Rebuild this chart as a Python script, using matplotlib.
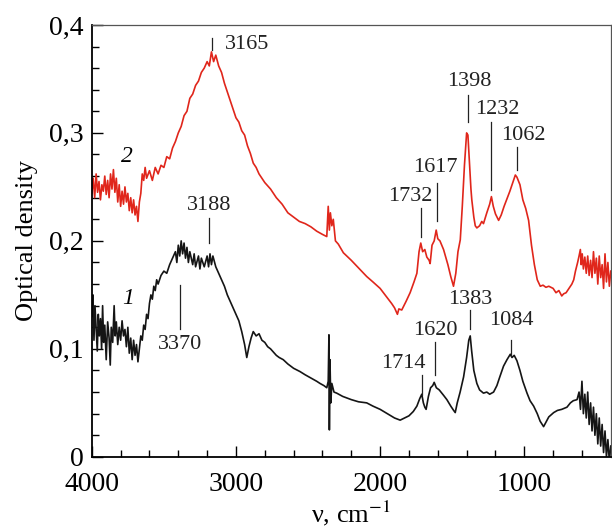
#!/usr/bin/env python3
"""IR spectra of samples 1 and 2: optical density vs wavenumber."""

import matplotlib
matplotlib.use("Agg")
import matplotlib.pyplot as plt
from matplotlib.ticker import MultipleLocator, FuncFormatter

plt.rcParams['font.family'] = ['Liberation Serif', 'DejaVu Serif']
plt.rcParams['mathtext.fontset'] = 'stix'

# spectrum 2 (red)
red_wn = [4000, 3990, 3980, 3970, 3960, 3950, 3940, 3930, 3920, 3910, 3900, 3890, 3880, 3870,
          3860, 3850, 3840, 3830, 3820, 3810, 3800, 3790, 3780, 3770, 3760, 3750, 3740, 3730,
          3720, 3710, 3700, 3690, 3680, 3670, 3660, 3650, 3640, 3630, 3620, 3600, 3580, 3560,
          3540, 3520, 3500, 3480, 3460, 3440, 3420, 3400, 3380, 3360, 3340, 3320, 3300, 3280,
          3260, 3240, 3220, 3200, 3185, 3170, 3155, 3140, 3120, 3100, 3080, 3060, 3040, 3020,
          3000, 2980, 2960, 2940, 2920, 2900, 2880, 2860, 2840, 2800, 2760, 2720, 2680, 2640,
          2600, 2560, 2520, 2480, 2440, 2400, 2370, 2360, 2352, 2345, 2335, 2325, 2310, 2290,
          2255, 2200, 2150, 2093, 2050, 2000, 1954, 1920, 1900, 1880, 1870, 1850, 1820, 1792,
          1765, 1745, 1730, 1718, 1705, 1690, 1676, 1660, 1653, 1640, 1625, 1611, 1600, 1585,
          1560, 1530, 1510, 1491, 1475, 1460, 1444, 1430, 1415, 1400, 1391, 1380, 1370, 1364,
          1350, 1340, 1329, 1310, 1295, 1283, 1260, 1240, 1228, 1215, 1200, 1178, 1160, 1140,
          1120, 1100, 1080, 1062, 1051, 1030, 1010, 990, 970, 950, 930, 910, 889, 870, 850,
          830, 800, 780, 760, 740, 727, 710, 690, 670, 657, 645, 630, 620, 611, 605, 598, 590,
          580, 570, 560, 550, 540, 530, 520, 510, 500, 490, 480, 470, 460, 450, 440, 430, 420,
          410, 400]
red_od = [0.244, 0.258, 0.240, 0.262, 0.245, 0.255, 0.238, 0.252, 0.246, 0.260, 0.243, 0.256,
          0.240, 0.262, 0.248, 0.266, 0.245, 0.258, 0.236, 0.252, 0.232, 0.246, 0.234, 0.250,
          0.236, 0.244, 0.228, 0.240, 0.226, 0.238, 0.224, 0.232, 0.218, 0.236, 0.244, 0.262,
          0.256, 0.268, 0.258, 0.265, 0.256, 0.268, 0.262, 0.270, 0.268, 0.278, 0.276, 0.286,
          0.292, 0.300, 0.306, 0.316, 0.320, 0.332, 0.336, 0.344, 0.348, 0.356, 0.360, 0.366,
          0.362, 0.375, 0.366, 0.372, 0.362, 0.356, 0.346, 0.338, 0.330, 0.322, 0.314, 0.310,
          0.302, 0.298, 0.288, 0.281, 0.272, 0.268, 0.262, 0.254, 0.248, 0.240, 0.234, 0.226,
          0.222, 0.218, 0.216, 0.213, 0.209, 0.206, 0.204, 0.232, 0.210, 0.226, 0.214, 0.220,
          0.200, 0.197, 0.189, 0.182, 0.175, 0.167, 0.162, 0.156, 0.148, 0.142, 0.138, 0.132,
          0.137, 0.136, 0.144, 0.152, 0.162, 0.170, 0.190, 0.198, 0.190, 0.192, 0.185, 0.182,
          0.179, 0.196, 0.200, 0.210, 0.202, 0.200, 0.192, 0.178, 0.167, 0.158, 0.170, 0.190,
          0.201, 0.232, 0.270, 0.300, 0.298, 0.272, 0.248, 0.238, 0.222, 0.214, 0.212, 0.214,
          0.218, 0.216, 0.226, 0.234, 0.241, 0.232, 0.225, 0.219, 0.224, 0.232, 0.239, 0.246,
          0.254, 0.261, 0.259, 0.252, 0.238, 0.230, 0.219, 0.196, 0.178, 0.164, 0.158, 0.159,
          0.157, 0.158, 0.156, 0.152, 0.154, 0.149, 0.151, 0.152, 0.156, 0.160, 0.164, 0.172,
          0.180, 0.186, 0.192, 0.178, 0.188, 0.174, 0.185, 0.170, 0.186, 0.168, 0.182, 0.166,
          0.190, 0.170, 0.184, 0.160, 0.186, 0.166, 0.178, 0.156, 0.188, 0.162, 0.180, 0.158,
          0.172]

# spectrum 1 (black)
blk_wn = [4000, 3992, 3985, 3978, 3970, 3962, 3955, 3948, 3940, 3932, 3925, 3918, 3910, 3900,
          3890, 3880, 3872, 3865, 3855, 3845, 3838, 3830, 3820, 3810, 3800, 3790, 3780, 3770,
          3760, 3750, 3740, 3730, 3720, 3710, 3700, 3690, 3680, 3670, 3660, 3650, 3640, 3630,
          3620, 3610, 3600, 3590, 3580, 3570, 3560, 3550, 3540, 3520, 3500, 3480, 3460, 3440,
          3420, 3410, 3400, 3390, 3380, 3370, 3360, 3350, 3340, 3330, 3320, 3300, 3290, 3280,
          3260, 3250, 3240, 3220, 3200, 3190, 3180, 3170, 3160, 3140, 3120, 3100, 3080, 3060,
          3040, 3020, 3000, 2980, 2960, 2940, 2925, 2910, 2895, 2880, 2860, 2840, 2820, 2800,
          2780, 2760, 2740, 2720, 2700, 2672, 2640, 2600, 2556, 2520, 2480, 2440, 2417, 2390,
          2370, 2360, 2355, 2352, 2348, 2342, 2335, 2320, 2301, 2260, 2200, 2150, 2093, 2050,
          2000, 1950, 1900, 1861, 1830, 1800, 1770, 1745, 1725, 1711, 1700, 1690, 1681, 1665,
          1650, 1635, 1625, 1610, 1590, 1560, 1537, 1510, 1490, 1479, 1465, 1445, 1421, 1400,
          1385, 1375, 1365, 1350, 1329, 1310, 1283, 1260, 1240, 1213, 1190, 1170, 1144, 1120,
          1097, 1085, 1070, 1051, 1030, 1010, 981, 960, 935, 910, 890, 866, 850, 830, 796, 770,
          740, 704, 680, 660, 634, 620, 610, 600, 590, 580, 570, 560, 550, 540, 530, 520, 510,
          500, 490, 480, 470, 460, 450, 440, 430, 420, 410, 400]
blk_od = [0.130, 0.150, 0.108, 0.140, 0.118, 0.098, 0.132, 0.112, 0.128, 0.100, 0.140, 0.106,
          0.122, 0.090, 0.125, 0.110, 0.085, 0.120, 0.106, 0.140, 0.112, 0.125, 0.104, 0.120,
          0.108, 0.126, 0.112, 0.118, 0.102, 0.120, 0.096, 0.110, 0.090, 0.108, 0.094, 0.104,
          0.088, 0.100, 0.112, 0.108, 0.122, 0.118, 0.132, 0.128, 0.142, 0.150, 0.146, 0.158,
          0.154, 0.164, 0.160, 0.168, 0.172, 0.170, 0.178, 0.184, 0.190, 0.180, 0.196, 0.186,
          0.200, 0.188, 0.198, 0.184, 0.194, 0.180, 0.190, 0.178, 0.188, 0.176, 0.186, 0.174,
          0.184, 0.176, 0.186, 0.176, 0.188, 0.178, 0.186, 0.176, 0.170, 0.164, 0.158, 0.150,
          0.144, 0.138, 0.132, 0.126, 0.116, 0.104, 0.092, 0.102, 0.110, 0.116, 0.112, 0.114,
          0.108, 0.106, 0.102, 0.100, 0.097, 0.094, 0.092, 0.090, 0.086, 0.082, 0.079, 0.076,
          0.073, 0.070, 0.068, 0.066, 0.064, 0.070, 0.113, 0.025, 0.090, 0.050, 0.068, 0.060,
          0.059, 0.056, 0.053, 0.051, 0.050, 0.047, 0.044, 0.040, 0.036, 0.034, 0.036, 0.038,
          0.042, 0.047, 0.054, 0.058, 0.050, 0.046, 0.044, 0.056, 0.064, 0.066, 0.069, 0.064,
          0.062, 0.057, 0.053, 0.047, 0.043, 0.041, 0.050, 0.060, 0.074, 0.092, 0.108, 0.112,
          0.098, 0.080, 0.068, 0.062, 0.059, 0.060, 0.058, 0.060, 0.066, 0.074, 0.084, 0.090,
          0.095, 0.092, 0.094, 0.089, 0.080, 0.070, 0.059, 0.052, 0.047, 0.040, 0.033, 0.028,
          0.032, 0.037, 0.041, 0.043, 0.044, 0.046, 0.050, 0.052, 0.053, 0.060, 0.044, 0.070,
          0.040, 0.058, 0.036, 0.060, 0.030, 0.050, 0.024, 0.046, 0.020, 0.040, 0.012, 0.036,
          0.010, 0.030, 0.004, 0.024, 0.000, 0.016, -0.004, 0.010]

# peak labels: (text, line x, line y0, line y1, text x, text y, ha)
red_peaks = [
    ("3165", 3165, 0.377, 0.388, 3078, 0.382, 'left'),
    ("1732", 1718, 0.204, 0.230, 1788, 0.241, 'center'),
    ("1617", 1607, 0.218, 0.254, 1615, 0.268, 'center'),
    ("1398", 1391, 0.310, 0.335, 1378, 0.348, 'center'),
    ("1232", 1229, 0.247, 0.310, 1184, 0.322, 'center'),
    ("1062", 1049, 0.266, 0.287, 1007, 0.298, 'center'),
]
blk_peaks = [
    ("3188", 3185, 0.198, 0.221, 3184, 0.233, 'center'),
    ("3370", 3387, 0.118, 0.159, 3385, 0.104, 'center'),
    ("1714", 1711, 0.057, 0.076, 1837, 0.086, 'center'),
    ("1620", 1620, 0.076, 0.106, 1615, 0.117, 'center'),
    ("1383", 1375, 0.118, 0.136, 1372, 0.146, 'center'),
    ("1084", 1090, 0.093, 0.108, 1087, 0.126, 'center'),
]

RED = '#e0261b'
BLK = '#151515'

fig = plt.figure(figsize=(6.12, 5.30), dpi=100)
ax = fig.add_axes([0.150, 0.138, 0.848, 0.815])

ax.plot(red_wn, red_od, color=RED, lw=1.2)
ax.plot(blk_wn, blk_od, color=BLK, lw=1.2)

for peaks in (red_peaks, blk_peaks):
    for txt, lx, y0, y1, tx, ty, ha in peaks:
        ax.plot([lx, lx], [y0, y1], color='#222222', lw=0.9)
        ax.text(tx, ty, txt, fontsize=16, ha=ha, va='center', color='#222222')

ax.text(3757, 0.278, "2", fontsize=17, style='italic', ha='center', va='center')
ax.text(3750, 0.147, "1", fontsize=17, style='italic', ha='center', va='center')

ax.set_xlim(4000, 400)
ax.set_ylim(0, 0.4)
ax.xaxis.set_major_locator(MultipleLocator(1000))
ax.xaxis.set_minor_locator(MultipleLocator(200))
ax.yaxis.set_major_locator(MultipleLocator(0.1))
ax.yaxis.set_minor_locator(MultipleLocator(0.02))
ax.yaxis.set_major_formatter(FuncFormatter(lambda v, p: "0" if abs(v) < 1e-9 else f"{v:.1f}".replace('.', ',')))
ax.tick_params(which='both', direction='in', top=False, right=False, labelsize=20, width=1.0)
ax.tick_params(which='major', length=8)
ax.tick_params(which='minor', length=5)
ax.tick_params(axis='x', pad=11)
ax.tick_params(axis='y', pad=6)

for s in ('left', 'bottom'):
    ax.spines[s].set_linewidth(1.3)
for s in ('top', 'right'):
    ax.spines[s].set_linewidth(0.9)
    ax.spines[s].set_color('#555555')

ax.set_ylabel("Optical density", fontsize=19, labelpad=8)
ax.set_xlabel(r"ν, cm$^{-1}$", fontsize=19, labelpad=1)

fig.savefig("out.png", dpi=100)
